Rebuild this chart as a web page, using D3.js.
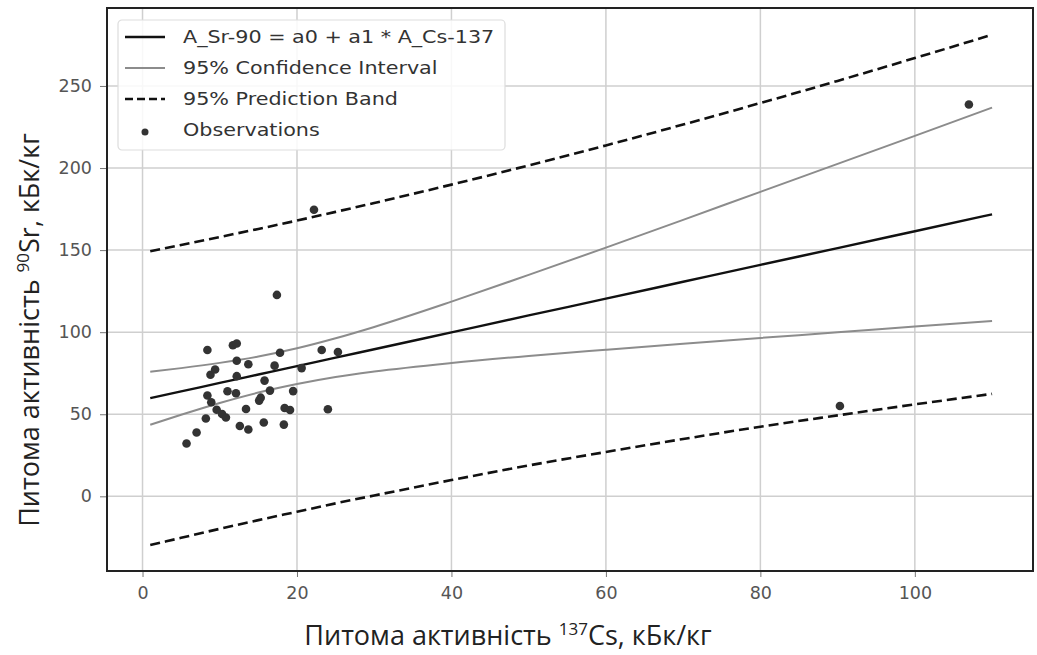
<!DOCTYPE html>
<html>
<head>
<meta charset="utf-8">
<script src="https://cdn.jsdelivr.net/npm/d3@7"></script>
<style>
  body { margin: 0; background: #fff; }
  svg { display: block; }
</style>
</head>
<body>
<div id="chart"></div>
<script>
// Observations (137Cs, 90Sr), kBq/kg
const obsCs = [5.7, 7.0, 8.2, 8.4, 8.9, 9.6, 8.4, 8.8, 9.4, 10.3, 10.8, 11.0, 11.7, 12.2,
  12.2, 12.2, 12.1, 12.6, 13.7, 13.4, 13.7, 15.1, 15.3, 15.7, 15.8, 16.5, 17.1, 17.8,
  17.4, 18.3, 18.4, 19.1, 19.5, 20.6, 22.2, 23.2, 24.0, 25.3, 90.3, 107.0];
const obsSr = [32.2, 38.9, 47.4, 61.4, 57.3, 52.7, 89.1, 74.1, 77.3, 50.1, 48.0, 64.0, 92.0, 93.1,
  82.6, 73.2, 62.8, 42.8, 40.7, 53.2, 80.5, 58.3, 60.1, 45.0, 70.5, 64.4, 79.6, 87.5,
  122.7, 43.7, 53.8, 52.6, 64.1, 78.1, 174.6, 89.1, 53.0, 87.9, 55.0, 238.7];

// Fit line and bands, read at these Cs values
const fitX = [1, 5, 10, 15, 20, 25, 30, 40, 50, 60, 70, 80, 90, 100, 110];
const fitY = [59.8, 63.9, 69.1, 74.2, 79.3, 84.5, 89.6, 99.9, 110.2, 120.4, 130.7, 141.0, 151.2, 161.5, 171.8];
const ciUpper = [75.9, 78.1, 81.3, 85.2, 90.2, 96.3, 103.2, 118.6, 134.9, 151.5, 168.4, 185.5, 202.5, 219.6, 236.8];
const ciLower = [43.6, 49.7, 56.9, 63.2, 68.4, 72.7, 76.0, 81.2, 85.5, 89.3, 93.0, 96.5, 99.9, 103.4, 106.8];
const pbUpper = [149.3, 153.1, 158.0, 162.9, 168.0, 173.3, 178.7, 189.9, 201.6, 213.8, 226.5, 239.6, 253.1, 267.0, 281.2];
const pbLower = [-29.7, -25.3, -19.8, -14.5, -9.4, -4.3, 0.5, 9.9, 18.8, 27.0, 34.9, 42.4, 49.3, 56.0, 62.4];

const xTicks = [0, 20, 40, 60, 80, 100];
const yTicks = [0, 50, 100, 150, 200, 250];
const legendLabels = ["A_Sr-90 = a0 + a1 * A_Cs-137", "95% Confidence Interval", "95% Prediction Band", "Observations"];

const W = 1037, H = 655;
const margin = { top: 8, right: 4, bottom: 84, left: 107 },
  width = W - margin.left - margin.right,
  height = H - margin.top - margin.bottom;

const svg = d3.select("#chart").append("svg")
  .attr("width", W)
  .attr("height", H);

var x = d3.scaleLinear().domain([-4.6, 115.3]).range([0, width]);
var y = d3.scaleLinear().domain([-45.5, 297.5]).range([height, 0]);

const g = svg.append("g").attr("transform", `translate(${margin.left},${margin.top})`);

// grid
g.append("g")
  .selectAll("line.gx")
  .data(xTicks)
  .join("line")
    .attr("x1", d => x(d)).attr("x2", d => x(d))
    .attr("y1", 0).attr("y2", height)
    .attr("stroke", "#cfcfcf").attr("stroke-width", 1.5);
g.append("g")
  .selectAll("line.gy")
  .data(yTicks)
  .join("line")
    .attr("y1", d => y(d)).attr("y2", d => y(d))
    .attr("x1", 0).attr("x2", width)
    .attr("stroke", "#cfcfcf").attr("stroke-width", 1.5);

// axes
var xAxis = g.append("g")
  .attr("transform", `translate(0,${height})`)
  .call(d3.axisBottom(x).tickValues(xTicks).tickSize(6).tickPadding(10));
var yAxis = g.append("g")
  .call(d3.axisLeft(y).tickValues(yTicks).tickSize(7).tickPadding(8));
[xAxis, yAxis].forEach(a => {
  a.select(".domain").remove();
  a.selectAll(".tick line").attr("stroke", "#777");
  a.selectAll("text")
    .attr("font-family", "DejaVu Sans")
    .attr("font-size", 17.5)
    .attr("fill", "#555");
});

// lines
const pts = (ys) => fitX.map((d, i) => [d, ys[i]]);
var line = d3.line().x(d => x(d[0])).y(d => y(d[1])).curve(d3.curveMonotoneX);

g.append("path").attr("d", line(pts(pbUpper)))
  .attr("fill", "none").attr("stroke", "#111").attr("stroke-width", 2.6).attr("stroke-dasharray", "10,5");
g.append("path").attr("d", line(pts(pbLower)))
  .attr("fill", "none").attr("stroke", "#111").attr("stroke-width", 2.6).attr("stroke-dasharray", "10,5");
g.append("path").attr("d", line(pts(ciUpper)))
  .attr("fill", "none").attr("stroke", "#8c8c8c").attr("stroke-width", 2);
g.append("path").attr("d", line(pts(ciLower)))
  .attr("fill", "none").attr("stroke", "#8c8c8c").attr("stroke-width", 2);
g.append("path").attr("d", line(pts(fitY)))
  .attr("fill", "none").attr("stroke", "#111").attr("stroke-width", 2.4);

// observations
g.append("g")
  .selectAll("circle")
  .data(obsCs.map((d, i) => [d, obsSr[i]]))
  .join("circle")
    .attr("cx", d => x(d[0]))
    .attr("cy", d => y(d[1]))
    .attr("r", 4.3)
    .attr("fill", "#333");

// frame
g.append("rect")
  .attr("width", width).attr("height", height)
  .attr("fill", "none").attr("stroke", "#222").attr("stroke-width", 2);

// legend
const leg = g.append("g").attr("transform", "translate(11,12)");
leg.append("rect")
  .attr("width", 387).attr("height", 130).attr("rx", 4)
  .attr("fill", "#fff").attr("fill-opacity", 0.85)
  .attr("stroke", "#ddd").attr("stroke-width", 1.2);
const legStyles = [
  { stroke: "#111", w: 2.4, dash: null },
  { stroke: "#8c8c8c", w: 2, dash: null },
  { stroke: "#111", w: 2.6, dash: "8,4" },
  null
];
legendLabels.forEach((lab, i) => {
  const row = leg.append("g").attr("transform", `translate(0,${17 + i * 31})`);
  const s = legStyles[i];
  if (s) {
    row.append("line").attr("x1", 7).attr("x2", 47).attr("y1", 0).attr("y2", 0)
      .attr("stroke", s.stroke).attr("stroke-width", s.w)
      .attr("stroke-dasharray", s.dash);
  } else {
    row.append("circle").attr("cx", 27).attr("cy", 2).attr("r", 3.5).attr("fill", "#333");
  }
  // scan is a little wider than tall, so stretch the text sideways
  row.append("text")
    .attr("transform", "translate(65,6) scale(1.15,1)")
    .attr("font-family", "DejaVu Sans").attr("font-size", 18)
    .attr("fill", "#333").text(lab);
});

// axis titles
const xt = svg.append("text")
  .attr("x", 508).attr("y", 645)
  .attr("text-anchor", "middle")
  .attr("font-family", "Open Sans").attr("font-size", 27).attr("fill", "#222");
xt.append("tspan").text("Питома активність ");
xt.append("tspan").attr("dy", -10).attr("font-size", 17).text("137");
xt.append("tspan").attr("dy", 10).text("Cs, кБк/кг");

const yt = svg.append("text")
  .attr("transform", "translate(39,330) rotate(-90)")
  .attr("text-anchor", "middle")
  .attr("font-family", "Open Sans").attr("font-size", 27).attr("fill", "#222");
yt.append("tspan").text("Питома активність ");
yt.append("tspan").attr("dy", -10).attr("font-size", 17).text("90");
yt.append("tspan").attr("dy", 10).text("Sr, кБк/кг");
</script>
</body>
</html>
